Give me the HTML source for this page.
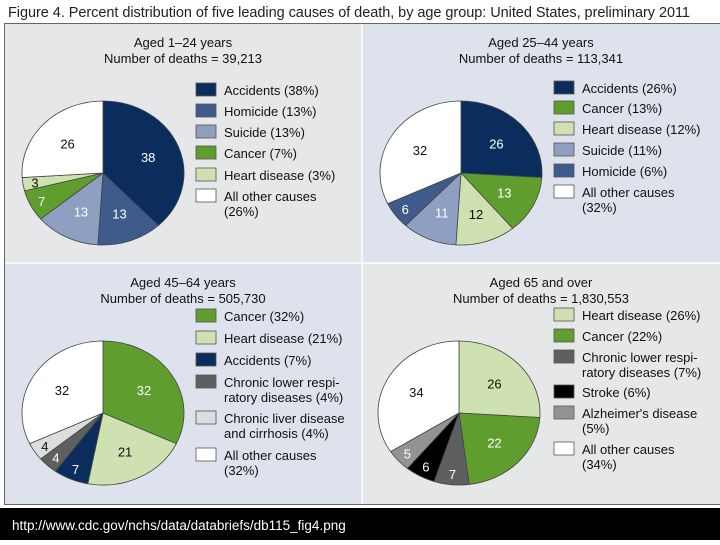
<!DOCTYPE html>
<html><head><meta charset="utf-8"><style>
body{margin:0;width:720px;height:540px;background:#fff;overflow:hidden;font-family:"Liberation Sans",sans-serif}
</style></head><body>
<svg width="720" height="540" id="fig" font-family="Liberation Sans, sans-serif">
<text x="8" y="17" font-size="14.5" fill="#222" textLength="682">Figure 4. Percent distribution of five leading causes of death, by age group: United States, preliminary 2011</text>
<rect x="4" y="23" width="358" height="240" fill="#e6e7e9"/>
<rect x="362" y="23" width="358" height="240" fill="#dde2ec"/>
<rect x="4" y="263" width="358" height="242" fill="#dde2ec"/>
<rect x="362" y="263" width="358" height="242" fill="#e6e7e9"/>
<line x1="362" y1="23" x2="362" y2="505" stroke="#fff" stroke-width="1.5"/>
<line x1="4" y1="263" x2="720" y2="263" stroke="#fff" stroke-width="1.5"/>
<rect x="4.5" y="23.5" width="720" height="481" fill="none" stroke="#666" stroke-width="1"/>
<rect x="0" y="508" width="720" height="32" fill="#000"/>
<text x="12" y="530" font-size="13.5" fill="#fff">http://www.cdc.gov/nchs/data/databriefs/db115_fig4.png</text>
</svg>
<script>
const C={acc:'#0b2d5e',hom:'#3e5b8c',sui:'#8e9fc2',can:'#5f9d2f',hrt:'#cfe1b1',oth:'#ffffff',clr:'#5e5f61',liv:'#dcdddf',str:'#000000',alz:'#939393'};
const titles1=['Aged 1–24 years','Aged 25–44 years','Aged 45–64 years','Aged 65 and over'];
const titles2=['Number of deaths = 39,213','Number of deaths = 113,341','Number of deaths = 505,730','Number of deaths = 1,830,553'];
const keys1=['acc','hom','sui','can','hrt','oth'];
const vals1=[38,13,13,7,3,26];
const leg1=[['Accidents (38%)'],['Homicide (13%)'],['Suicide (13%)'],['Cancer (7%)'],['Heart disease (3%)'],['All other causes','(26%)']];
const keys2=['acc','can','hrt','sui','hom','oth'];
const vals2=[26,13,12,11,6,32];
const leg2=[['Accidents (26%)'],['Cancer (13%)'],['Heart disease (12%)'],['Suicide (11%)'],['Homicide (6%)'],['All other causes','(32%)']];
const keys3=['can','hrt','acc','clr','liv','oth'];
const vals3=[32,21,7,4,4,32];
const leg3=[['Cancer (32%)'],['Heart disease (21%)'],['Accidents (7%)'],['Chronic lower respi-','ratory diseases (4%)'],['Chronic liver disease','and cirrhosis (4%)'],['All other causes','(32%)']];
const keys4=['hrt','can','clr','str','alz','oth'];
const vals4=[26,22,7,6,5,34];
const leg4=[['Heart disease (26%)'],['Cancer (22%)'],['Chronic lower respi-','ratory diseases (7%)'],['Stroke (6%)'],['Alzheimer\'s disease','(5%)'],['All other causes','(34%)']];
const panels=[
 {k:keys1,v:vals1,l:leg1,ox:4,oy:23,cx:103,cy:173,lx:196,ly:[95,116,137,158,180,201]},
 {k:keys2,v:vals2,l:leg2,ox:362,oy:23,cx:461,cy:173,lx:554,ly:[93,113,134,155,176,197]},
 {k:keys3,v:vals3,l:leg3,ox:4,oy:263,cx:103,cy:413,lx:196,ly:[321,343,365,387,423,460]},
 {k:keys4,v:vals4,l:leg4,ox:362,oy:263,cx:459,cy:413,lx:554,ly:[320,341,362,397,418,454]}];
const svg=document.getElementById('fig');const NS='http://www.w3.org/2000/svg';
function mk(t,a,p){const e=document.createElementNS(NS,t);for(const k in a)e.setAttribute(k,a[k]);(p||svg).appendChild(e);return e;}
const RX=81,RY=72;
panels.forEach((p,i)=>{
 const cxT=p.ox+179;
 const t1=mk('text',{x:cxT,y:p.oy+24,'font-size':13,'text-anchor':'middle',fill:'#111'});t1.textContent=titles1[i];
 
 
 const t2=mk('text',{x:cxT,y:p.oy+40,'font-size':13,'text-anchor':'middle',fill:'#111'});t2.textContent=titles2[i];
 
 
 const tot=p.v.reduce((a,b)=>a+b,0);let a0=0;
 const pt=(a,f)=>[p.cx+Math.sin(a)*RX*f,p.cy-Math.cos(a)*RY*f];
 p.v.forEach((v,j)=>{
  const a1=a0+v/tot*2*Math.PI;const s=pt(a0,1),e=pt(a1,1);
  const path=mk('path',{d:`M${p.cx},${p.cy}L${s[0]},${s[1]}A${RX},${RY} 0 ${a1-a0>Math.PI?1:0} 1 ${e[0]},${e[1]}Z`,fill:C[p.k[j]],stroke:'#444','stroke-width':0.8});
  
  
  const f=v<8?0.85:0.6;const m=pt((a0+a1)/2,f);
  const dark=['acc','hom','sui','can','clr','str','alz'].includes(p.k[j]);
  const lb=mk('text',{x:m[0],y:m[1]+5,'font-size':13,'text-anchor':'middle',fill:dark?'#fff':'#111'});lb.textContent=v;
  
  
  a0=a1;
 });
 p.l.forEach((lines,j)=>{
  const y=p.ly[j];
  const r=mk('rect',{x:p.lx,y:y-12,width:20,height:13,fill:C[p.k[j]],stroke:'#555','stroke-width':0.8});
  
  
  lines.forEach((ln,q)=>{const t=mk('text',{x:p.lx+28,y:y+q*15,'font-size':13,fill:'#111'});t.textContent=ln;
   
   });
 });
});
</script>
</body></html>
